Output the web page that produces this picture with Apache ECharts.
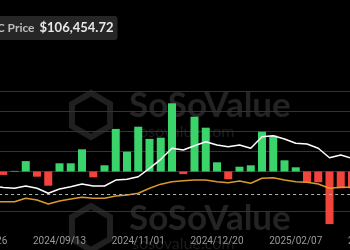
<!DOCTYPE html>
<html>
<head>
<meta charset="utf-8">
<script src="https://cdn.jsdelivr.net/npm/echarts@6/dist/echarts.min.js"></script>
<style>
html,body{margin:0;padding:0;background:#000;}
#c{width:350px;height:250px;}
</style>
</head>
<body>
<div id="c"></div>
<script>
// Weekly dates (first two and last two are outside the visible window)
const dates = ['2024/07/26','2024/08/02','2024/08/09','2024/08/16','2024/08/23','2024/08/30','2024/09/06','2024/09/13','2024/09/20','2024/09/27','2024/10/04','2024/10/11','2024/10/18','2024/10/25','2024/11/01','2024/11/08','2024/11/15','2024/11/22','2024/11/29','2024/12/06','2024/12/13','2024/12/20','2024/12/27','2025/01/03','2025/01/10','2025/01/17','2025/01/24','2025/01/31','2025/02/07','2025/02/14','2025/02/21','2025/02/28','2025/03/07','2025/03/14','2025/03/21','2025/03/28'];
// Weekly net inflow (US$ B)
const netInflow = [null,null,-0.17,0.03,0.52,-0.26,-0.71,0.41,0.41,1.11,-0.29,0.31,2.13,0.99,2.24,1.63,1.69,3.41,-0.13,2.74,2.19,0.46,-0.39,0.24,0.31,1.99,1.79,0.56,0.21,-0.54,-0.54,-2.63,-0.84,-0.84,null,null];
// BTC price (US$)
const btcPrice = [null,60000,58700,58000,60000,58000,53600,57300,59400,61700,60000,60000,65200,65900,68100,75500,83400,93100,91600,95400,98900,96000,94500,96000,93100,103300,104200,101300,97500,96900,93100,84800,87200,84300,null,null];
// Cumulative net inflow (US$ B)
const cumInflow = [null,16.6,16.8,16.8,19.9,18.4,14.8,17.5,19.3,20.8,19.9,19.9,22.0,22.9,24.4,28.9,32.6,34.8,35.7,36.4,36.4,34.8,33.9,35.5,33.4,37.9,38.4,36.4,34.8,34.3,32.8,28.9,29.8,29.8,null,null];
const refLevel = -1.12;
const headerLabel = 'BTC Price';
const headerValue = '$106,454.72';

function hexPoints(cx, cy, r) {
  const p = [];
  for (let i = 0; i < 6; i++) {
    const a = Math.PI / 3 * i + Math.PI / 6;
    p.push([cx + r * Math.cos(a), cy + r * Math.sin(a)]);
  }
  return p;
}

const chart = echarts.init(document.getElementById('c'), null, {renderer: 'canvas'});
const grid = '#333333';
chart.setOption({
  backgroundColor: '#000000',
  animation: false,
  title: {
    text: '{a|' + headerLabel + '} {b|' + headerValue + '}',
    left: -24, top: 16,
    backgroundColor: '#262626',
    borderRadius: 3,
    padding: [3, 4, 3, 6],
    textStyle: {
      rich: {
        a: {color: '#bdbdbd', fontSize: 12, fontFamily: 'Lato'},
        b: {color: '#e8e8e8', fontSize: 13, fontWeight: 'bold', fontFamily: 'Lato'}
      }
    }
  },
  graphic: [
    {type: 'polygon', z: -1, shape: {points: hexPoints(91, 115, 22)}, style: {fill: 'none', stroke: '#202020', lineWidth: 6}},
    {type: 'text', z: -1, left: 129, top: 88, style: {text: 'SoSoValue', font: 'bold 35px Lato', fill: '#232323'}},
    {type: 'text', z: -1, left: 132, top: 124, style: {text: 'sosovalue.com', font: '16px Lato', fill: '#1c1c1c'}},
    {type: 'polygon', z: -1, shape: {points: hexPoints(91, 228, 22)}, style: {fill: 'none', stroke: '#202020', lineWidth: 6}},
    {type: 'text', z: -1, left: 129, top: 201, style: {text: 'SoSoValue', font: 'bold 35px Lato', fill: '#232323'}},
    {type: 'text', z: -1, left: 132, top: 236, style: {text: 'sosovalue.com', font: '16px Lato', fill: '#1c1c1c'}}
  ],
  grid: {left: -24.875, right: -30.125, top: 91.5, height: 140, containLabel: false, outerBoundsMode: 'none'},
  xAxis: {
    type: 'category',
    data: dates,
    boundaryGap: true,
    axisLine: {show: false},
    axisTick: {show: false},
    splitLine: {show: false},
    axisLabel: {interval: 6, color: '#9a9a9a', fontSize: 10, fontFamily: 'Roboto', margin: 5, hideOverlap: false}
  },
  yAxis: [
    {
      type: 'value', min: -3, max: 4, interval: 1,
      axisLabel: {show: false}, axisLine: {show: false}, axisTick: {show: false},
      splitLine: {show: true, lineStyle: {width: 1, color: ['rgba(0,0,0,0)', grid, 'rgba(0,0,0,0)', grid, grid, grid, grid, grid]}}
    },
    {type: 'value', min: 20000, max: 143000, show: false, splitLine: {show: false}},
    {type: 'value', min: -10, max: 116, show: false, splitLine: {show: false}}
  ],
  series: [
    {
      name: 'Net Inflow', type: 'bar', data: netInflow, barWidth: 8, yAxisIndex: 0,
      itemStyle: {color: p => (p.value >= 0 ? '#3ad46b' : '#f3443c')},
      markLine: {
        silent: true, symbol: 'none', label: {show: false},
        lineStyle: {color: '#b0b0b0', type: [3, 3], width: 1},
        data: [{yAxis: refLevel}]
      }
    },
    {
      name: 'Cumulative', type: 'line', data: cumInflow, yAxisIndex: 2,
      symbol: 'none', lineStyle: {color: '#d99a2b', width: 1.5}
    },
    {
      name: 'BTC Price', type: 'line', data: btcPrice, yAxisIndex: 1,
      symbol: 'none', lineStyle: {color: '#ffffff', width: 1.5}
    }
  ]
});
</script>
</body>
</html>
